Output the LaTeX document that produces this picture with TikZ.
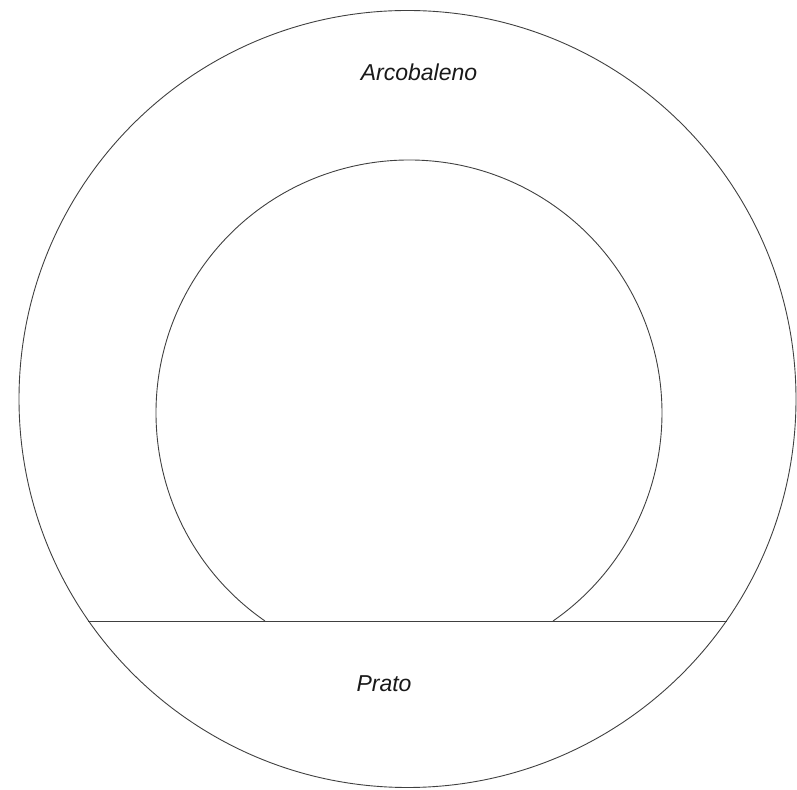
\documentclass[tikz,border=0pt]{standalone}
\usepackage{fontspec}
\setmainfont{Liberation Sans}
\begin{document}
\begin{tikzpicture}[x=1pt,y=1pt,
  ln/.style={draw=black!75, line width=0.9pt},
  lbl/.style={font=\fontsize{23}{27}\selectfont\itshape, text=black!90, inner sep=0pt, anchor=base}]
\useasboundingbox (0,0) rectangle (797,789);
\coordinate (oc) at (407.5,390);
\coordinate (ic) at (409,376);
\coordinate (gl) at (88,168);
\coordinate (gr) at (727,168);
% outer circle
\draw[ln] (oc) circle[radius=388.5];
% ground line
\draw[ln] (gl) -- (gr);
% inner arc (rainbow) standing on the ground line
\draw[ln] (ic) ++({180+asin(208/253)}:253) arc[start angle={180+asin(208/253)}, end angle={-asin(208/253)}, radius=253];
\node[lbl] (arc) at (419,708) {Arcobaleno};
\node[lbl] (prato) at (384,97) {Prato};
\end{tikzpicture}
\end{document}
